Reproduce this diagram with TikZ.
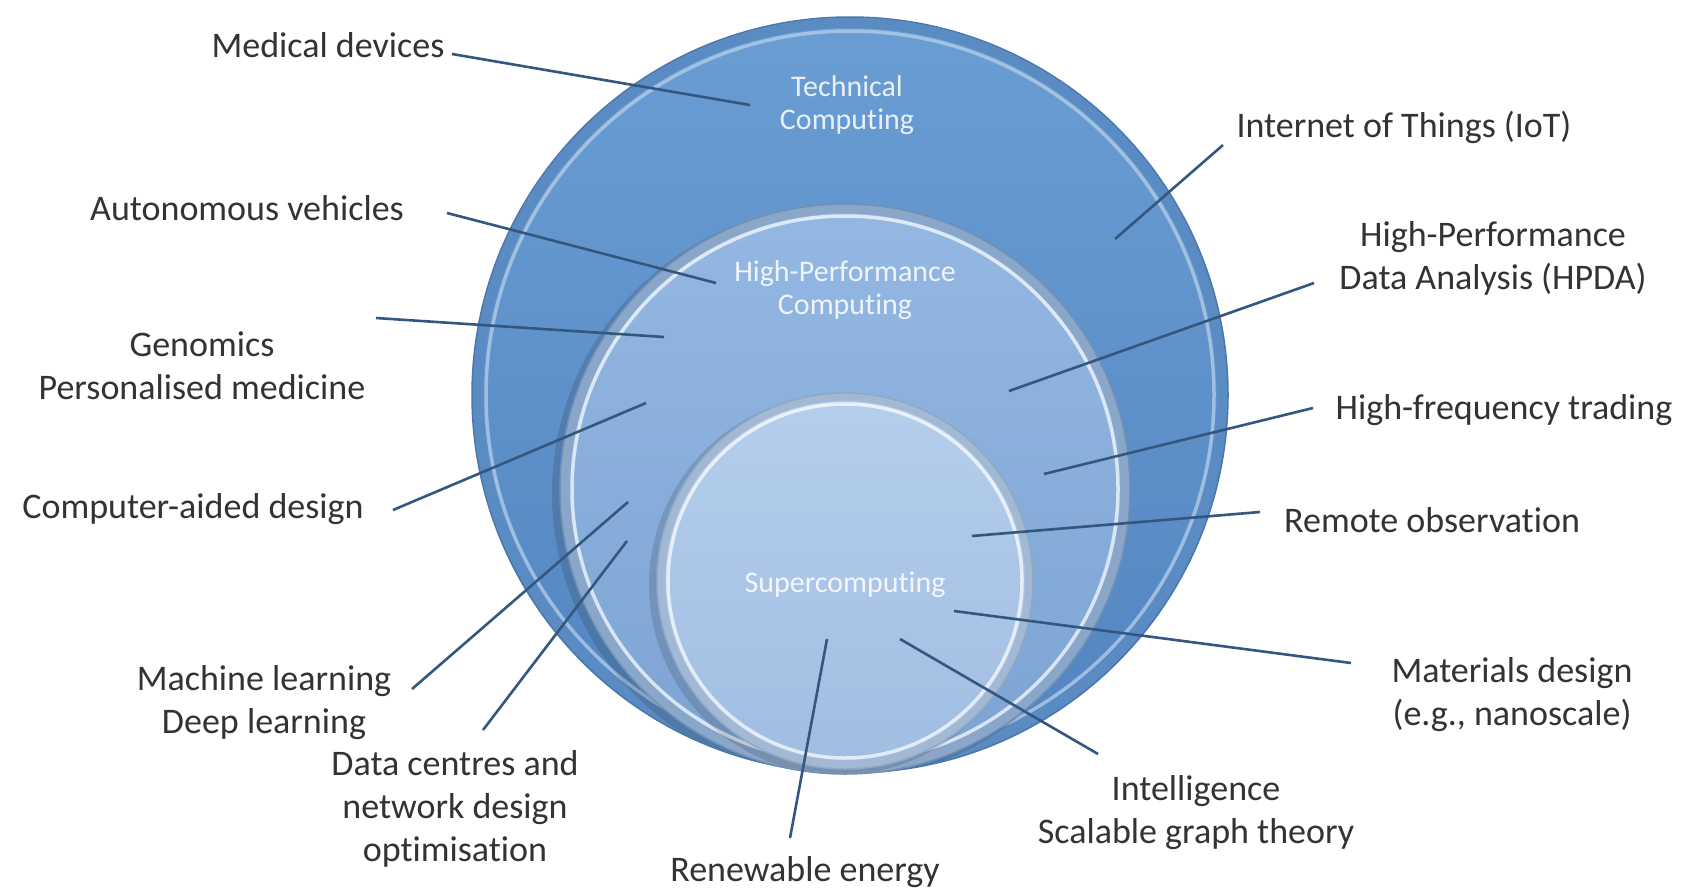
\documentclass[tikz,border=0pt]{standalone}
\usepackage{fontspec}
\setmainfont{Carlito}[RawFeature={-liga;-dlig;-clig;-calt;-rlig;-hlig}]
\definecolor{labelgray}{HTML}{333333}
\definecolor{linecol}{HTML}{34577F}
\definecolor{outA}{HTML}{6A9DD3}
\definecolor{outB}{HTML}{5285C0}
\definecolor{outRim}{HTML}{4A78AC}
\definecolor{outBand}{HTML}{5A8BC3}
\definecolor{midA}{HTML}{94B8E2}
\definecolor{midB}{HTML}{7CA3D3}
\definecolor{midRim}{HTML}{7190B6}
\definecolor{midBand}{HTML}{8AA6C8}
\definecolor{inA}{HTML}{B5CEEC}
\definecolor{inB}{HTML}{A0BDE2}
\definecolor{inRim}{HTML}{8EA8C8}
\definecolor{inBand}{HTML}{A3B8D2}
\begin{document}
\begin{tikzpicture}[x=1pt,y=-1pt]
\tikzset{
  lbl/.style={text=labelgray, align=center, font=\fontsize{36}{43}\selectfont, inner sep=0pt},
  inlbl/.style={text=white, text opacity=0.85, align=center, font=\fontsize{30}{33}\selectfont, inner sep=0pt},
  conn/.style={draw=linecol, line width=2.6pt},
  hilite/.style={draw=white, opacity=0.7, line width=3.5pt},
}
\useasboundingbox (0,0) rectangle (1688,891);
\fill[white] (0,0) rectangle (1688,891);

% outer circle: Technical Computing
\shade[top color=outA, bottom color=outB] (850,395) circle[radius=378];
\draw[outBand, line width=10pt] (850,395) circle[radius=372];
\draw[hilite, draw=white!55!outA] (850,395) circle[radius=364];
\draw[outRim, line width=1.5pt] (850,395) circle[radius=378];

% middle circle: High-Performance Computing
\begin{scope}
  \clip (850,395) circle[radius=377];
  \fill[black, opacity=0.13] (839,493) circle[radius=287];
\end{scope}
\shade[top color=midA, bottom color=midB] (845,489) circle[radius=285];
\draw[midBand, line width=9pt] (845,489) circle[radius=280];
\draw[hilite] (845,489) circle[radius=273];
\draw[midRim, line width=1.5pt] (845,489) circle[radius=285];

% inner circle: Supercomputing
\begin{scope}
  \clip (845,489) circle[radius=284];
  \fill[black, opacity=0.13] (839,585) circle[radius=190];
\end{scope}
\shade[top color=inA, bottom color=inB] (845,581) circle[radius=188];
\draw[inBand, line width=8pt] (845,581) circle[radius=184];
\draw[hilite] (845,581) circle[radius=177];
\draw[inRim, line width=1.5pt] (845,581) circle[radius=188];

% circle labels
\node[inlbl] (tech) at (847,105) {Technical\\Computing};
\node[inlbl] (hpc) at (845,290) {High-Performance\\Computing};
\node[inlbl] (super) at (845,585) {Supercomputing};

% outside labels
\node[lbl] (med) at (328,45) {Medical devices};
\node[lbl] (iot) at (1404,127) {Internet of Things (IoT)};
\node[lbl] (auto) at (247,208) {Autonomous vehicles};
\node[lbl] (hpda) at (1493,258) {High-Performance\\Data Analysis (HPDA)};
\node[lbl] (gen) at (202,366) {Genomics\\Personalised medicine};
\node[lbl] (hft) at (1504,410) {High-frequency trading};
\node[lbl] (cad) at (193,509) {Computer-aided design};
\node[lbl] (remote) at (1432,520) {Remote observation};
\node[lbl] (ml) at (264,703) {Machine learning\\Deep learning};
\node[lbl] (mat) at (1512,695) {Materials design\\(e.g., nanoscale)};
\node[lbl] (dc) at (455,809) {Data centres and\\network design\\optimisation};
\node[lbl] (intel) at (1196,813) {Intelligence\\Scalable graph theory};
\node[lbl] (renew) at (805,872) {Renewable energy};

% connector end points
\coordinate (medA) at (452,54);   \coordinate (medB) at (750,105);
\coordinate (iotA) at (1223,145); \coordinate (iotB) at (1115,239);
\coordinate (autoA) at (447,213); \coordinate (autoB) at (716,283);
\coordinate (genA) at (376,318);  \coordinate (genB) at (664,337);
\coordinate (hpdaA) at (1314,283);\coordinate (hpdaB) at (1009,391);
\coordinate (cadA) at (393,510);  \coordinate (cadB) at (646,403);
\coordinate (hftA) at (1313,408); \coordinate (hftB) at (1044,474);
\coordinate (remA) at (1260,512); \coordinate (remB) at (972,536);
\coordinate (mlA) at (412,689);   \coordinate (mlB) at (628,502);
\coordinate (dcA) at (483,730);   \coordinate (dcB) at (627,541);
\coordinate (matA) at (1351,663); \coordinate (matB) at (954,611);
\coordinate (intA) at (1098,754); \coordinate (intB) at (900,639);
\coordinate (renA) at (790,838);  \coordinate (renB) at (827,639);

\draw[conn] (medA) -- (medB);
\draw[conn] (iotA) -- (iotB);
\draw[conn] (autoA) -- (autoB);
\draw[conn] (genA) -- (genB);
\draw[conn] (hpdaA) -- (hpdaB);
\draw[conn] (cadA) -- (cadB);
\draw[conn] (hftA) -- (hftB);
\draw[conn] (remA) -- (remB);
\draw[conn] (mlA) -- (mlB);
\draw[conn] (dcA) -- (dcB);
\draw[conn] (matA) -- (matB);
\draw[conn] (intA) -- (intB);
\draw[conn] (renA) -- (renB);
\end{tikzpicture}
\end{document}
